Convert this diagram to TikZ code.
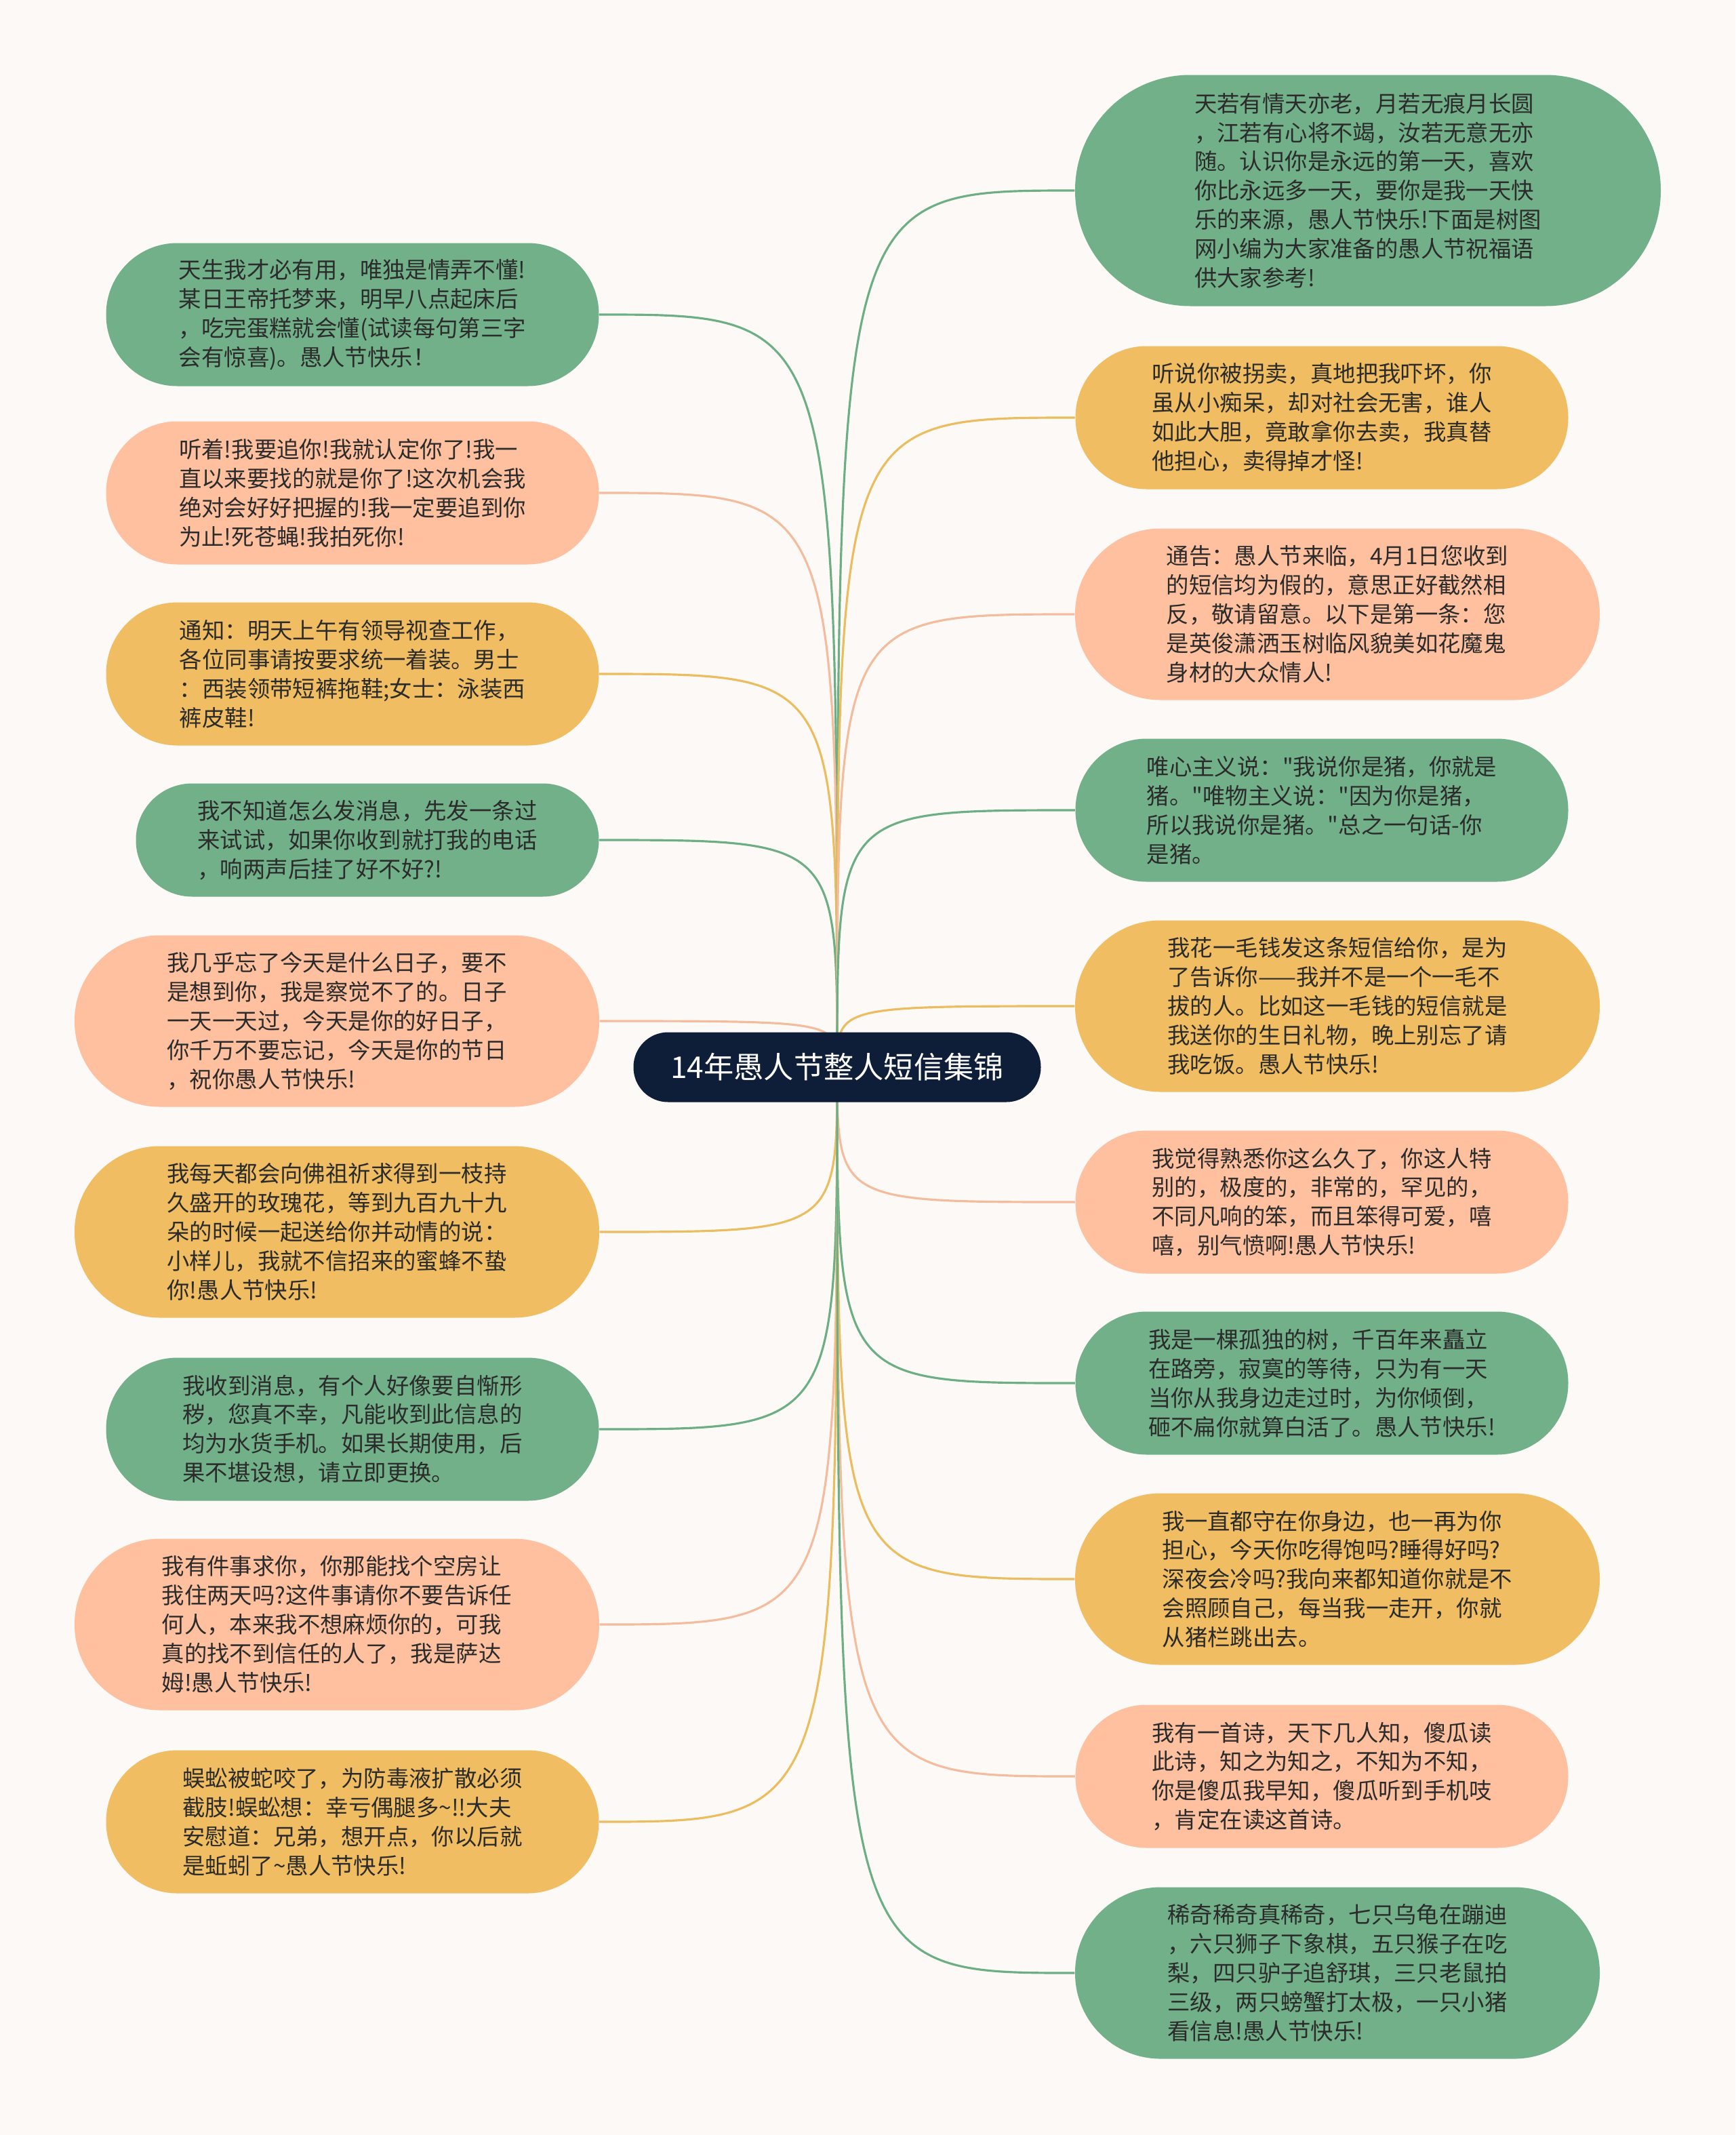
\documentclass[tikz,border=0pt]{standalone}
\usepackage{fontspec}
\setmainfont{Noto Sans CJK SC}
\usetikzlibrary{backgrounds}
\definecolor{bgcol}{HTML}{FCF9F7}
\definecolor{rootcol}{HTML}{0E1E38}
\definecolor{txtcol}{HTML}{2B2B2B}
\definecolor{grcol}{HTML}{71B089}
\definecolor{sacol}{HTML}{FEC09E}
\definecolor{yecol}{HTML}{F0BD62}
\definecolor{grline}{HTML}{6DAE85}
\definecolor{saline}{HTML}{F4BC9C}
\definecolor{yeline}{HTML}{EBBD5F}
\begin{document}
\begin{tikzpicture}
	\tikzstyle{root}=[shape=rectangle,fill=rootcol,text=white,rounded corners=0.51cm,minimum width=6.01cm,minimum height=1.03cm,font=\fontsize{12.6}{15}\selectfont]
	\tikzstyle{leaf}=[shape=rectangle,align=left,inner sep=0pt,text=txtcol,font=\fontsize{9.5}{12.2}\selectfont]
	\tikzstyle{rows3}=[leaf,minimum width=6.83cm,minimum height=1.67cm,rounded corners=0.83cm]
	\tikzstyle{rows4}=[leaf,minimum width=7.27cm,minimum height=2.11cm,rounded corners=1.05cm]
	\tikzstyle{rows5}=[leaf,minimum width=7.74cm,minimum height=2.53cm,rounded corners=1.26cm]
	\tikzstyle{rows7}=[leaf,minimum width=8.64cm,minimum height=3.41cm,rounded corners=1.70cm]
	\tikzstyle{gr}=[fill=grcol]
	\tikzstyle{sa}=[fill=sacol]
	\tikzstyle{ye}=[fill=yecol]
	\tikzstyle{link}=[line width=0.9pt]

	\useasboundingbox (0,0) rectangle (25.60,-31.49);

	\node (root) at (12.35,-15.74) [root] {14年愚人节整人短信集锦};

	%%% left
	\node (l1) at (5.20,-4.64) [rows4, gr] {天生我才必有用，唯独是情弄不懂!\\某日王帝托梦来，明早八点起床后\\，吃完蛋糕就会懂(试读每句第三字\\会有惊喜)。愚人节快乐！};
	\node (l2) at (5.20,-7.27) [rows4, sa] {听着!我要追你!我就认定你了!我一\\直以来要找的就是你了!这次机会我\\绝对会好好把握的!我一定要追到你\\为止!死苍蝇!我拍死你!};
	\node (l3) at (5.20,-9.94) [rows4, ye] {通知：明天上午有领导视查工作，\\各位同事请按要求统一着装。男士\\：西装领带短裤拖鞋;女士：泳装西\\裤皮鞋!};
	\node (l4) at (5.42,-12.39) [rows3, gr] {我不知道怎么发消息，先发一条过\\来试试，如果你收到就打我的电话\\，响两声后挂了好不好?!};
	\node (l5) at (4.97,-15.06) [rows5, sa] {我几乎忘了今天是什么日子，要不\\是想到你，我是察觉不了的。日子\\一天一天过，今天是你的好日子，\\你千万不要忘记，今天是你的节日\\，祝你愚人节快乐!};
	\node (l6) at (4.97,-18.17) [rows5, ye] {我每天都会向佛祖祈求得到一枝持\\久盛开的玫瑰花，等到九百九十九\\朵的时候一起送给你并动情的说：\\小样儿，我就不信招来的蜜蜂不蛰\\你!愚人节快乐!};
	\node (l7) at (5.20,-21.08) [rows4, gr] {我收到消息，有个人好像要自惭形\\秽，您真不幸，凡能收到此信息的\\均为水货手机。如果长期使用，后\\果不堪设想，请立即更换。};
	\node (l8) at (4.97,-23.96) [rows5, sa] {我有件事求你，你那能找个空房让\\我住两天吗?这件事请你不要告诉任\\何人，本来我不想麻烦你的，可我\\真的找不到信任的人了，我是萨达\\姆!愚人节快乐!};
	\node (l9) at (5.20,-26.87) [rows4, ye] {蜈蚣被蛇咬了，为防毒液扩散必须\\截肢!蜈蚣想：幸亏偶腿多\textasciitilde!!大夫\\安慰道：兄弟，想开点，你以后就\\是蚯蚓了\textasciitilde 愚人节快乐!};

	%%% right
	\node (r1) at (20.18,-2.81) [rows7, gr] {天若有情天亦老，月若无痕月长圆\\，江若有心将不竭，汝若无意无亦\\随。认识你是永远的第一天，喜欢\\你比永远多一天，要你是我一天快\\乐的来源，愚人节快乐!下面是树图\\网小编为大家准备的愚人节祝福语\\供大家参考!};
	\node (r2) at (19.50,-6.16) [rows4, ye] {听说你被拐卖，真地把我吓坏，你\\虽从小痴呆，却对社会无害，谁人\\如此大胆，竟敢拿你去卖，我真替\\他担心，卖得掉才怪!};
	\node (r3) at (19.73,-9.06) [rows5, sa] {通告：愚人节来临，4月1日您收到\\的短信均为假的，意思正好截然相\\反，敬请留意。以下是第一条：您\\是英俊潇洒玉树临风貌美如花魔鬼\\身材的大众情人!};
	\node (r4) at (19.50,-11.95) [rows4, gr] {唯心主义说：\textquotedbl 我说你是猪，你就是\\猪。\textquotedbl 唯物主义说：\textquotedbl 因为你是猪，\\所以我说你是猪。\textquotedbl 总之一句话-你\\是猪。};
	\node (r5) at (19.73,-14.84) [rows5, ye] {我花一毛钱发这条短信给你，是为\\了告诉你——我并不是一个一毛不\\拔的人。比如这一毛钱的短信就是\\我送你的生日礼物，晚上别忘了请\\我吃饭。愚人节快乐!};
	\node (r6) at (19.50,-17.73) [rows4, sa] {我觉得熟悉你这么久了，你这人特\\别的，极度的，非常的，罕见的，\\不同凡响的笨，而且笨得可爱，嘻\\嘻，别气愤啊!愚人节快乐!};
	\node (r7) at (19.50,-20.40) [rows4, gr] {我是一棵孤独的树，千百年来矗立\\在路旁，寂寞的等待，只为有一天\\当你从我身边走过时，为你倾倒，\\砸不扁你就算白活了。愚人节快乐!};
	\node (r8) at (19.73,-23.29) [rows5, ye] {我一直都守在你身边，也一再为你\\担心，今天你吃得饱吗?睡得好吗?\\深夜会冷吗?我向来都知道你就是不\\会照顾自己，每当我一走开，你就\\从猪栏跳出去。};
	\node (r9) at (19.50,-26.20) [rows4, sa] {我有一首诗，天下几人知，傻瓜读\\此诗，知之为知之，不知为不知，\\你是傻瓜我早知，傻瓜听到手机吱\\，肯定在读这首诗。};
	\node (r10) at (19.73,-29.10) [rows5, gr] {稀奇稀奇真稀奇，七只乌龟在蹦迪\\，六只狮子下象棋，五只猴子在吃\\梨，四只驴子追舒琪，三只老鼠拍\\三级，两只螃蟹打太极，一只小猪\\看信息!愚人节快乐!};

	%%% links
	\begin{scope}[on background layer]
	\fill [bgcol] (0,0) rectangle (25.60,-31.49);
	\draw[link, grline] (root.center) .. controls (root.center |- l1.east) and (root.center |- l1.east) .. (l1.east);
	\draw[link, saline] (root.center) .. controls (root.center |- l2.east) and (root.center |- l2.east) .. (l2.east);
	\draw[link, yeline] (root.center) .. controls (root.center |- l3.east) and (root.center |- l3.east) .. (l3.east);
	\draw[link, grline] (root.center) .. controls (root.center |- l4.east) and (root.center |- l4.east) .. (l4.east);
	\draw[link, saline] (root.center) .. controls (root.center |- l5.east) and (root.center |- l5.east) .. (l5.east);
	\draw[link, yeline] (root.center) .. controls (root.center |- l6.east) and (root.center |- l6.east) .. (l6.east);
	\draw[link, grline] (root.center) .. controls (root.center |- l7.east) and (root.center |- l7.east) .. (l7.east);
	\draw[link, saline] (root.center) .. controls (root.center |- l8.east) and (root.center |- l8.east) .. (l8.east);
	\draw[link, yeline] (root.center) .. controls (root.center |- l9.east) and (root.center |- l9.east) .. (l9.east);

	\draw[link, grline] (root.center) .. controls (root.center |- r1.west) and (root.center |- r1.west) .. (r1.west);
	\draw[link, yeline] (root.center) .. controls (root.center |- r2.west) and (root.center |- r2.west) .. (r2.west);
	\draw[link, saline] (root.center) .. controls (root.center |- r3.west) and (root.center |- r3.west) .. (r3.west);
	\draw[link, grline] (root.center) .. controls (root.center |- r4.west) and (root.center |- r4.west) .. (r4.west);
	\draw[link, yeline] (root.center) .. controls (root.center |- r5.west) and (root.center |- r5.west) .. (r5.west);
	\draw[link, saline] (root.center) .. controls (root.center |- r6.west) and (root.center |- r6.west) .. (r6.west);
	\draw[link, grline] (root.center) .. controls (root.center |- r7.west) and (root.center |- r7.west) .. (r7.west);
	\draw[link, yeline] (root.center) .. controls (root.center |- r8.west) and (root.center |- r8.west) .. (r8.west);
	\draw[link, saline] (root.center) .. controls (root.center |- r9.west) and (root.center |- r9.west) .. (r9.west);
	\draw[link, grline] (root.center) .. controls (root.center |- r10.west) and (root.center |- r10.west) .. (r10.west);
	\end{scope}
\end{tikzpicture}
\end{document}
